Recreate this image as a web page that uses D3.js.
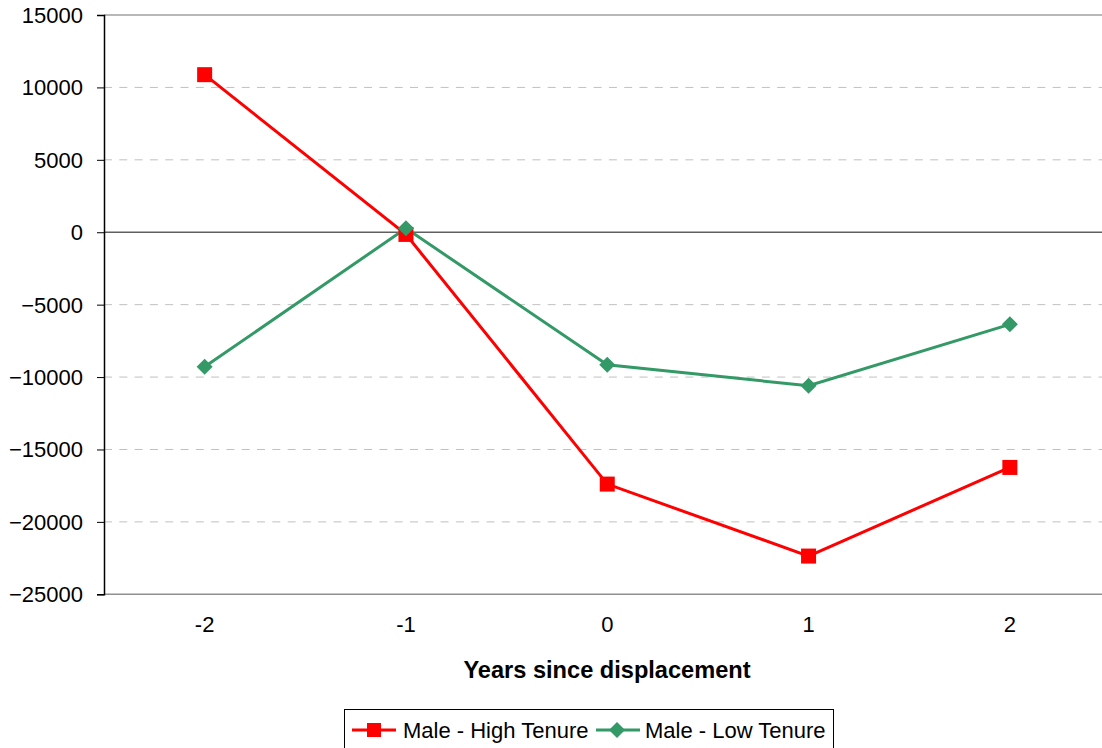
<!DOCTYPE html>
<html>
<head>
<meta charset="utf-8">
<script src="https://cdn.jsdelivr.net/npm/d3@7"></script>
<style>
  html, body { margin: 0; padding: 0; background: #fff; }
  svg { display: block; font-family: "Liberation Sans", Arial, sans-serif; }
</style>
</head>
<body>
<svg id="chart" width="1102" height="748"></svg>
<script>
// Earnings change by years since displacement
const years = ["-2", "-1", "0", "1", "2"];
const highTenure = [10880, -150, -17390, -22360, -16240];
const lowTenure = [-9290, 270, -9150, -10600, -6360];
const yTicks = [15000, 10000, 5000, 0, -5000, -10000, -15000, -20000, -25000];
const seriesNames = ["Male - High Tenure", "Male - Low Tenure"];

(function draw() {
const svg = d3.select("#chart");
const plotLeft = 104, plotRight = 1110.5, plotTop = 15, plotBottom = 594.3;

const x = d3.scaleBand().domain(years).range([plotLeft, plotRight]);
const y = d3.scaleLinear().domain([-25000, 15000]).range([plotBottom, plotTop]);

// dashed gridlines
svg.append("g").selectAll("line")
  .data(yTicks.filter(d => d !== 0 && d !== 15000 && d !== -25000))
  .join("line")
  .attr("x1", plotLeft).attr("x2", plotRight)
  .attr("y1", d => y(d)).attr("y2", d => y(d))
  .attr("stroke", "#c0c0c0").attr("stroke-width", 1)
  .attr("stroke-dasharray", "8,7.3");

// top border
svg.append("line").attr("x1", plotLeft).attr("x2", plotRight)
  .attr("y1", y(15000)).attr("y2", y(15000))
  .attr("stroke", "#a0a0a0").attr("stroke-width", 1.5);

// bottom border
svg.append("line").attr("x1", plotLeft).attr("x2", plotRight)
  .attr("y1", y(-25000)).attr("y2", y(-25000))
  .attr("stroke", "#909090").attr("stroke-width", 1.5);

// zero line
svg.append("line").attr("x1", plotLeft).attr("x2", plotRight)
  .attr("y1", y(0)).attr("y2", y(0))
  .attr("stroke", "#606060").attr("stroke-width", 1.5);

// y axis
const yAxis = d3.axisLeft(y).tickValues(yTicks).tickSize(7).tickPadding(14).tickFormat(d3.format("d"));
const gy = svg.append("g").attr("transform", `translate(${plotLeft},0)`).call(yAxis);
gy.select(".domain").attr("stroke", "#000").attr("stroke-width", 1.5);
gy.selectAll(".tick line").attr("stroke", "#000").attr("stroke-width", 1);
gy.selectAll(".tick text").attr("font-size", 22).attr("fill", "#000")
  .attr("font-family", "Liberation Sans, Arial, sans-serif").attr("dy", "0.34em");

// x axis labels
const xAxis = d3.axisBottom(x).tickSize(0).tickPadding(22);
const gx = svg.append("g").attr("transform", `translate(0,${plotBottom})`).call(xAxis);
gx.select(".domain").remove();
gx.selectAll(".tick text").attr("font-size", 22).attr("fill", "#000")
  .attr("font-family", "Liberation Sans, Arial, sans-serif");

svg.append("text")
  .attr("x", 607).attr("y", 678)
  .attr("text-anchor", "middle")
  .attr("font-size", 23.6).attr("font-weight", "bold")
  .text("Years since displacement");

const line = d3.line().x((d, i) => x(years[i]) + x.bandwidth() / 2).y(d => y(d));

const red = "#ff0000", green = "#339966";

svg.append("path").datum(lowTenure).attr("d", line)
  .attr("fill", "none").attr("stroke", green).attr("stroke-width", 3);
svg.append("path").datum(highTenure).attr("d", line)
  .attr("fill", "none").attr("stroke", red).attr("stroke-width", 3);

const sq = 15;
svg.append("g").selectAll("rect").data(highTenure).join("rect")
  .attr("x", (d, i) => x(years[i]) + x.bandwidth() / 2 - sq / 2)
  .attr("y", d => y(d) - sq / 2)
  .attr("width", sq).attr("height", sq).attr("fill", red);

const diamond = (cx, cy, r) => `M${cx},${cy - r}L${cx + r},${cy}L${cx},${cy + r}L${cx - r},${cy}Z`;
svg.append("g").selectAll("path").data(lowTenure).join("path")
  .attr("d", (d, i) => diamond(x(years[i]) + x.bandwidth() / 2, y(d), 8))
  .attr("fill", green);

// legend
const lg = svg.append("g");
lg.append("rect").attr("x", 344.5).attr("y", 709.5).attr("width", 489).attr("height", 45)
  .attr("fill", "#fff").attr("stroke", "#000").attr("stroke-width", 1);
const ly = 730;
lg.append("line").attr("x1", 352).attr("x2", 396).attr("y1", ly).attr("y2", ly)
  .attr("stroke", red).attr("stroke-width", 3);
lg.append("rect").attr("x", 374 - 7).attr("y", ly - 7).attr("width", 14).attr("height", 14).attr("fill", red);
lg.append("text").attr("x", 403).attr("y", ly).attr("dy", "0.36em")
  .attr("font-size", 22).text(seriesNames[0]);
lg.append("line").attr("x1", 596).attr("x2", 640).attr("y1", ly).attr("y2", ly)
  .attr("stroke", green).attr("stroke-width", 3);
lg.append("path").attr("d", diamond(617, ly, 8)).attr("fill", green);
lg.append("text").attr("x", 645).attr("y", ly).attr("dy", "0.36em")
  .attr("font-size", 22).text(seriesNames[1]);
})();
</script>
</body>
</html>
